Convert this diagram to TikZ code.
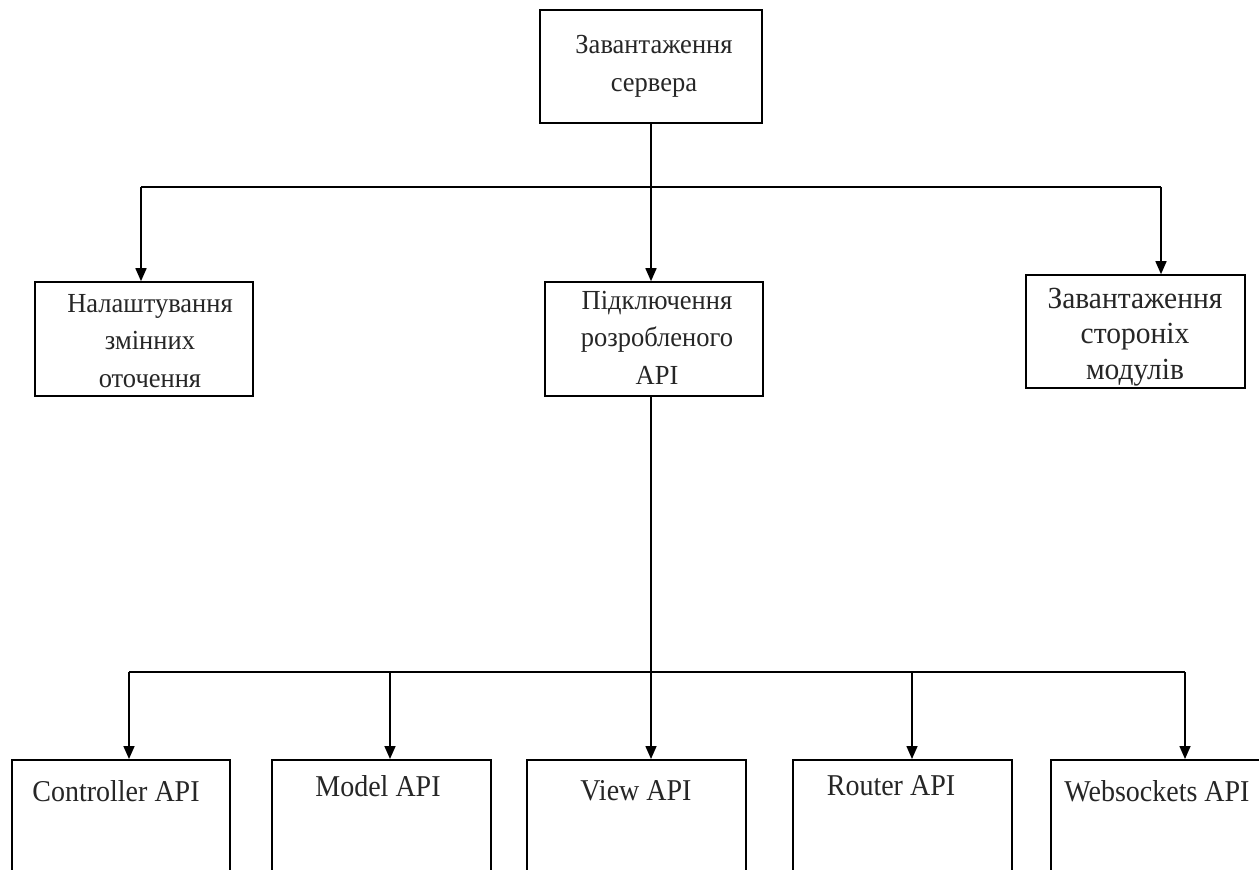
\documentclass[tikz,border=0pt]{standalone}
\usepackage{fontspec}
\setmainfont{Liberation Serif}
\usetikzlibrary{arrows.meta,calc}

\tikzset{
  box/.style={draw=black, line width=1.6pt, rectangle, inner sep=0pt, fill=white},
  toptext/.style={font=\fontsize{26.5}{36}\selectfont, align=center, text=black!85, yscale=1.04},
  apitext/.style={font=\fontsize{28}{34}\selectfont, text=black!85, inner sep=0pt, yscale=1.08},
  wire/.style={line width=1.6pt, draw=black},
  arr/.style={wire, -{Triangle[width=11pt,length=13pt]}, shorten >=0pt}
}

\begin{document}
\begin{tikzpicture}[x=1pt, y=-1pt]
  \clip (0,0) rectangle (1259,870);
  \fill[white] (0,0) rectangle (1259,870);

  % top level
  \node[box, minimum width=222, minimum height=113] (server) at (651,66.5) {};
  \node[toptext] (serverT) at (654,66.5) {Завантаження\\сервера};

  % second level
  \node[box, minimum width=218, minimum height=114] (env) at (144,339) {};
  \node[toptext] (envT) at (150,341) {Налаштування\\змінних\\оточення};

  \node[box, minimum width=218, minimum height=114] (api) at (654,339) {};
  \node[toptext] (apiT) at (657,337.5) {Підключення\\розробленого\\API};

  \node[box, minimum width=219, minimum height=113] (mods) at (1135.5,331.5) {};
  \node[toptext, font=\fontsize{29.5}{34}\selectfont] (modsT) at (1135,337) {Завантаження\\стороніх\\модулів};

  % API modules (boxes run past the lower edge)
  \node[box, minimum width=218, minimum height=160, anchor=north] (ctrl) at (121,759) {};
  \node[box, minimum width=219, minimum height=160, anchor=north] (model) at (381.5,759) {};
  \node[box, minimum width=219, minimum height=160, anchor=north] (view) at (636.5,759) {};
  \node[box, minimum width=219, minimum height=160, anchor=north] (router) at (902.5,759) {};
  \node[box, minimum width=219, minimum height=160, anchor=north] (ws) at (1160.5,759) {};

  \node[apitext] (ctrlT) at (116,791) {Controller API};
  \node[apitext] (modelT) at (378,786) {Model API};
  \node[apitext] (viewT) at (636,791) {View API};
  \node[apitext] (routerT) at (891,786) {Router API};
  \node[apitext] (wsT) at (1157,791) {Websockets API};

  % bus lines
  \coordinate (busA) at (651,187);
  \coordinate (busB) at (651,672);

  \draw[wire] (server.south) -- (busA);
  \draw[wire] ([xshift=-3]env.north |- busA) -- ([xshift=25.5]mods.north |- busA);
  \draw[arr] ([xshift=-3]env.north |- busA) -- ([xshift=-3]env.north);
  \draw[arr] (busA) -- ([xshift=-3]api.north);
  \draw[arr] ([xshift=25.5]mods.north |- busA) -- ([xshift=25.5]mods.north);

  \draw[wire] (api.south -| busB) -- (busB);
  \draw[wire] ([xshift=8]ctrl.north |- busB) -- ([xshift=24.5]ws.north |- busB);
  \draw[arr] ([xshift=8]ctrl.north |- busB) -- ([xshift=8]ctrl.north);
  \draw[arr] ([xshift=8.5]model.north |- busB) -- ([xshift=8.5]model.north);
  \draw[arr] (busB) -- ([xshift=14.5]view.north);
  \draw[arr] ([xshift=9.5]router.north |- busB) -- ([xshift=9.5]router.north);
  \draw[arr] ([xshift=24.5]ws.north |- busB) -- ([xshift=24.5]ws.north);
\end{tikzpicture}
\end{document}
